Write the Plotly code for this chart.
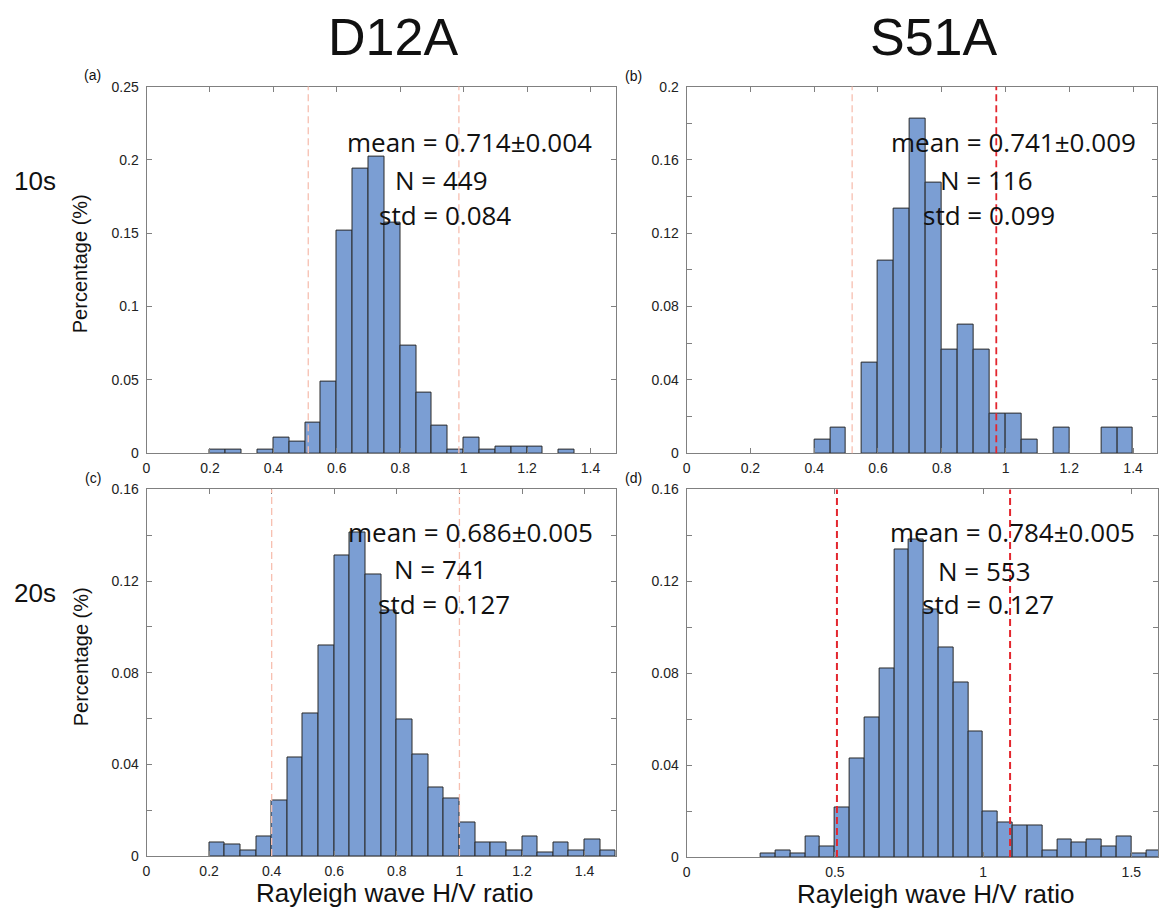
import plotly.graph_objects as go

W, H = 1159, 921

# ---------------- data ----------------
bin_width = 0.05

# (a) D12A, 10 s
a_left = [0.20, 0.25, 0.35, 0.40, 0.45, 0.50, 0.55, 0.60, 0.65, 0.70, 0.75, 0.80,
          0.85, 0.90, 0.95, 1.00, 1.05, 1.10, 1.15, 1.20, 1.30]
a_vals = [0.0022, 0.0022, 0.0022, 0.0105, 0.0082, 0.0205, 0.049, 0.152, 0.194, 0.2025, 0.157, 0.0733,
          0.041, 0.0185, 0.0022, 0.0105, 0.0022, 0.0042, 0.0042, 0.0042, 0.0022]

# (b) S51A, 10 s
b_left = [0.40, 0.45, 0.55, 0.60, 0.65, 0.70, 0.75, 0.80, 0.85, 0.90, 0.95, 1.00,
          1.05, 1.15, 1.30, 1.35]
b_vals = [0.0075, 0.0139, 0.0492, 0.105, 0.1336, 0.1823, 0.1475, 0.0563, 0.070, 0.0563, 0.0214, 0.0214,
          0.0075, 0.0139, 0.0139, 0.0139]

# (c) D12A, 20 s
c_left = [0.20, 0.25, 0.30, 0.35, 0.40, 0.45, 0.50, 0.55, 0.60, 0.65, 0.70, 0.75, 0.80,
          0.85, 0.90, 0.95, 1.00, 1.05, 1.10, 1.15, 1.20, 1.25, 1.30, 1.35, 1.40, 1.45]
c_vals = [0.0061, 0.0049, 0.0026, 0.0084, 0.0243, 0.0431, 0.0621, 0.0917, 0.131, 0.1413, 0.1227, 0.1073, 0.0594,
          0.0443, 0.0301, 0.025, 0.0146, 0.0061, 0.0061, 0.0026, 0.0084, 0.0014, 0.0061, 0.0026, 0.0073, 0.0026]

# (d) S51A, 20 s
d_left = [0.25, 0.30, 0.35, 0.40, 0.45, 0.50, 0.55, 0.60, 0.65, 0.70, 0.75, 0.80, 0.85,
          0.90, 0.95, 1.00, 1.05, 1.10, 1.15, 1.20, 1.25, 1.30, 1.35, 1.40, 1.45, 1.50, 1.55]
d_vals = [0.0014, 0.003, 0.0014, 0.0091, 0.0047, 0.0215, 0.0427, 0.0606, 0.0821, 0.1337, 0.1382, 0.1077, 0.0911,
          0.0759, 0.0548, 0.0196, 0.0151, 0.0137, 0.0137, 0.003, 0.0075, 0.0061, 0.0075, 0.0047, 0.0091, 0.0014, 0.003]

# dashed reference lines (x positions)
a_lines = [0.51, 0.985]
b_lines = [0.519, 0.971]
c_lines = [0.40, 1.00]
d_lines = [0.507, 1.091]

# stats text
a_text = ["mean = 0.714±0.004", "N = 449", "std = 0.084"]
b_text = ["mean = 0.741±0.009", "N = 116", "std = 0.099"]
c_text = ["mean = 0.686±0.005", "N = 741", "std = 0.127"]
d_text = ["mean = 0.784±0.005", "N = 553", "std = 0.127"]

# tick values / labels
a_yticks = [0, 0.05, 0.1, 0.15, 0.2, 0.25]
a_ylabels = ["0", "0.05", "0.1", "0.15", "0.2", "0.25"]
b_yticks = [0, 0.02, 0.04, 0.06, 0.08, 0.10, 0.12, 0.14, 0.16, 0.18, 0.2]
b_ylabels = ["0", "", "0.04", "", "0.08", "", "0.12", "", "0.16", "", "0.2"]
cd_yticks = [0, 0.02, 0.04, 0.06, 0.08, 0.10, 0.12, 0.14, 0.16]
cd_ylabels = ["0", "", "0.04", "", "0.08", "", "0.12", "", "0.16"]
abc_xticks = [0, 0.2, 0.4, 0.6, 0.8, 1.0, 1.2, 1.4]
abc_xlabels = ["0", "0.2", "0.4", "0.6", "0.8", "1", "1.2", "1.4"]
d_xticks = [0, 0.5, 1.0, 1.5]
d_xlabels = ["0", "0.5", "1", "1.5"]

# ---------------- styling ----------------
BAR_COLOR = "#7B9ED3"
EDGE = "#2a2a2a"
FAINT = "#F7BFB0"
RED = "#E3262E"
AXCOL = "#808080"
TICKFONT = dict(family="Liberation Sans, Arial", size=14, color="#222")

def px_x(p):
    return p / W

def px_y(p):
    return 1 - p / H

panels = [
    # name, xdom px, ydom px (top,bottom), xrange, yrange, left, vals, lines, line colors, xt, xl, yt, yl
    dict(left=a_left, vals=a_vals, xd=(143, 614), yd=(80, 453), xr=[0, 1.48], yr=[0, 0.25],
         lines=a_lines, lcol=[FAINT, FAINT], lw=[1.3, 1.3], xt=abc_xticks, xl=abc_xlabels, yt=a_yticks, yl=a_ylabels,
         text=a_text, tpos=[(467.5, 136), (439, 175), (442.5, 211)]),
    dict(left=b_left, vals=b_vals, xd=(685, 1157), yd=(80, 453), xr=[0, 1.475], yr=[0, 0.2],
         lines=b_lines, lcol=[FAINT, RED], lw=[1.3, 1.8], xt=abc_xticks, xl=abc_xlabels, yt=b_yticks, yl=b_ylabels,
         text=b_text, tpos=[(1013, 136), (985.5, 175), (988.5, 211)]),
    dict(left=c_left, vals=c_vals, xd=(143, 614), yd=(490, 863), xr=[0, 1.5], yr=[0, 0.16],
         lines=c_lines, lcol=[FAINT, FAINT], lw=[1.3, 1.3], xt=abc_xticks, xl=abc_xlabels, yt=cd_yticks, yl=cd_ylabels,
         text=c_text, tpos=[(468, 533), (438, 571), (442, 607)]),
    dict(left=d_left, vals=d_vals, xd=(685, 1158), yd=(490, 864), xr=[0, 1.59], yr=[0, 0.16],
         lines=d_lines, lcol=[RED, RED], lw=[2, 2], xt=d_xticks, xl=d_xlabels, yt=cd_yticks, yl=cd_ylabels,
         text=d_text, tpos=[(1012, 533), (984, 573), (987, 607)]),
]

fig = go.Figure()
layout = dict(width=W, height=H, autosize=False, margin=dict(l=0, r=0, t=0, b=0),
              paper_bgcolor="white", plot_bgcolor="white", showlegend=False, bargap=0)
shapes = []
annotations = []

for i, p in enumerate(panels):
    k = "" if i == 0 else str(i + 1)
    xa, ya = "x" + k, "y" + k
    centers = [l + bin_width / 2 for l in p["left"]]
    fig.add_trace(go.Bar(x=centers, y=p["vals"], width=bin_width, xaxis=xa, yaxis=ya,
                         marker=dict(color=BAR_COLOR, line=dict(color=EDGE, width=1)),
                         hoverinfo="x+y"))
    common = dict(showgrid=False, zeroline=False, showline=True, linecolor=AXCOL, linewidth=1,
                  mirror="allticks", ticks="inside", ticklen=5, tickcolor=AXCOL, tickwidth=1,
                  tickfont=TICKFONT, tickmode="array")
    layout["xaxis" + k] = dict(common, domain=[px_x(p["xd"][0]), px_x(p["xd"][1])], range=p["xr"],
                               tickvals=p["xt"], ticktext=p["xl"], anchor=ya, ticklabelstandoff=2)
    layout["yaxis" + k] = dict(common, domain=[px_y(p["yd"][1]), px_y(p["yd"][0])], range=p["yr"],
                               tickvals=p["yt"], ticktext=p["yl"], anchor=xa, ticklabelstandoff=4)
    for xv, col, lw in zip(p["lines"], p["lcol"], p["lw"]):
        shapes.append(dict(type="line", xref=xa, yref=ya + " domain", x0=xv, x1=xv, y0=0, y1=1,
                           line=dict(color=col, width=lw, dash="7px,4px"), layer="above"))
    for txt, (tx, ty) in zip(p["text"], p["tpos"]):
        annotations.append(dict(text=txt, xref="paper", yref="paper", x=px_x(tx), y=px_y(ty),
                                xanchor="center", yanchor="middle", showarrow=False,
                                font=dict(family="Open Sans", size=26, color="#111")))

# column titles, row labels, panel labels, axis titles
HELV = "Liberation Sans, Arial"
for txt, x, y, size in [("D12A", 390, 30, 52), ("S51A", 933, 30, 52),
                        ("10s", 31, 176, 26), ("20s", 31, 595, 26),
                        ("(a)", 89, 68, 14), ("(b)", 632, 69, 14), ("(c)", 89, 478, 14), ("(d)", 632, 478, 14),
                        ("Rayleigh wave H/V ratio", 392, 901, 26), ("Rayleigh wave H/V ratio", 935, 902, 26)]:
    annotations.append(dict(text=txt, xref="paper", yref="paper", x=px_x(x), y=px_y(y),
                            xanchor="center", yanchor="middle", showarrow=False,
                            font=dict(family=HELV, size=size, color="#111")))
for y in [260, 660]:
    annotations.append(dict(text="Percentage (%)", xref="paper", yref="paper", x=px_x(77), y=px_y(y),
                            xanchor="center", yanchor="middle", showarrow=False, textangle=-90,
                            font=dict(family=HELV, size=20, color="#111")))

layout["shapes"] = shapes
layout["annotations"] = annotations
fig.update_layout(**layout)
fig.write_html("out.html")
